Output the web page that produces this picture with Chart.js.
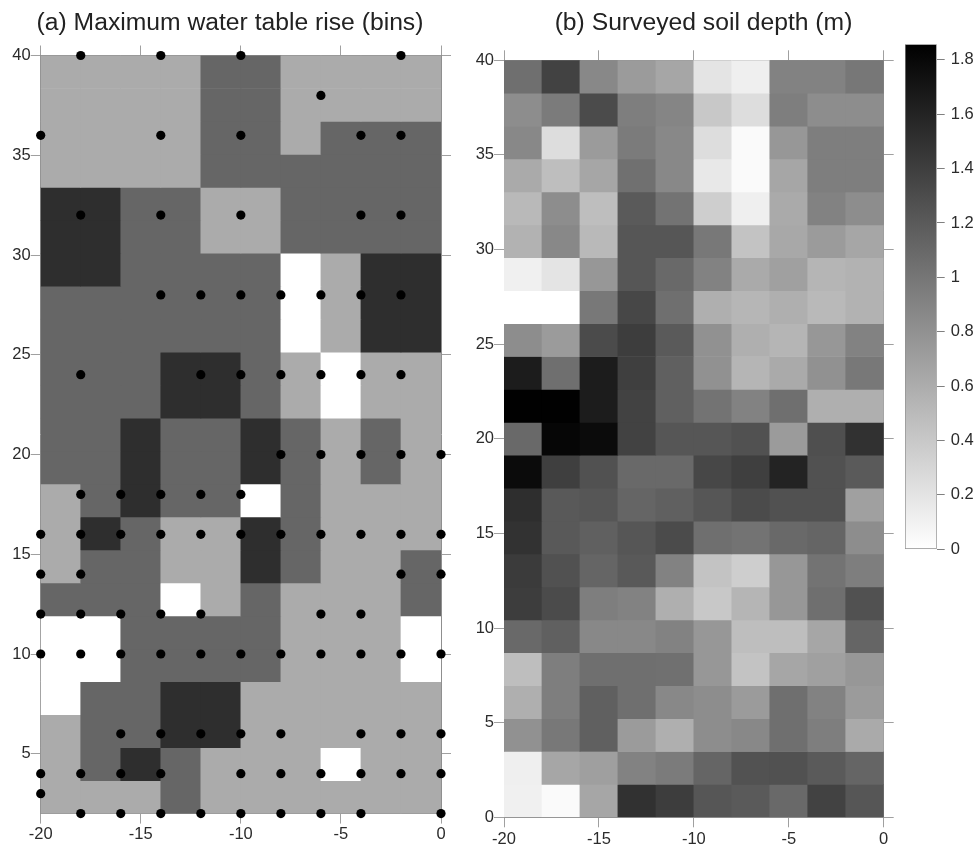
<!DOCTYPE html>
<html>
<head>
<meta charset="utf-8">
<title>Water table rise and soil depth</title>
<script src="https://cdn.jsdelivr.net/npm/chart.js@4/dist/chart.umd.js"></script>
<style>
html,body{margin:0;padding:0;background:#fff;overflow:hidden}
#wrap{position:relative;width:977px;height:845px;background:#fff}
canvas{position:absolute;display:block}
</style>
</head>
<body>
<div id="wrap">
<canvas id="panelA" width="460" height="845" style="left:0;top:0"></canvas>
<canvas id="panelB" width="487" height="845" style="left:460px;top:0"></canvas>
<canvas id="colorbar" width="97" height="845" style="left:880px;top:0"></canvas>
</div>
<script>
const titleA = "(a) Maximum water table rise (bins)";
const titleB = "(b) Surveyed soil depth (m)";
const xTicks = [-20, -15, -10, -5, 0];
const yTicksA = [5, 10, 15, 20, 25, 30, 35, 40];
const yTicksB = [0, 5, 10, 15, 20, 25, 30, 35, 40];
const barTicks = [0, 0.2, 0.4, 0.6, 0.8, 1, 1.2, 1.4, 1.6, 1.8];
const columnCentres = [-19, -17, -15, -13, -11, -9, -7, -5, -3, -1];

// rise bin per cell, rows from top (y = 40) to bottom (y = 2)
const riseBins = [
  [1,1,1,1,2,2,1,1,1,1],
  [1,1,1,1,2,2,1,1,1,1],
  [1,1,1,1,2,2,1,2,2,2],
  [1,1,1,1,2,2,2,2,2,2],
  [3,3,2,2,1,1,2,2,2,2],
  [3,3,2,2,1,1,2,2,2,2],
  [3,3,2,2,2,2,0,1,3,3],
  [2,2,2,2,2,2,0,1,3,3],
  [2,2,2,2,2,2,0,1,3,3],
  [2,2,2,3,3,2,1,0,1,1],
  [2,2,2,3,3,2,1,0,1,1],
  [2,2,3,2,2,3,2,1,2,1],
  [2,2,3,2,2,3,2,1,2,1],
  [1,2,3,2,2,0,2,1,1,1],
  [1,3,2,1,1,3,2,1,1,1],
  [1,2,2,1,1,3,2,1,1,2],
  [2,2,2,0,1,2,1,1,1,2],
  [0,0,2,2,2,2,1,1,1,0],
  [0,0,2,2,2,2,1,1,1,0],
  [0,2,2,3,3,1,1,1,1,1],
  [1,2,2,3,3,1,1,1,1,1],
  [1,2,3,2,1,1,1,0,1,1],
  [1,1,1,2,1,1,1,1,1,1]
];
// survey points as x positions grouped by y
const siteY = [40, 38, 36, 32, 28, 24, 20, 18, 16, 14, 12, 10, 6, 4, 3, 2];
const siteX = [
  [-18,-14,-10,-2],
  [-6],
  [-20,-14,-10,-4,-2],
  [-18,-14,-10,-4,-2],
  [-14,-12,-10,-8,-6,-4,-2],
  [-18,-12,-10,-8,-6,-4,-2],
  [-8,-6,-4,-2,0],
  [-18,-16,-14,-12,-10],
  [-20,-18,-16,-14,-12,-10,-8,-6,-4,-2,0],
  [-20,-18,-2,0],
  [-20,-18,-16,-14,-12,-6,-4],
  [-20,-18,-16,-14,-12,-10,-8,-6,-4,-2,0],
  [-16,-14,-12,-10,-8,-4,-2,0],
  [-20,-18,-16,-14,-10,-8,-6,-4,-2,0],
  [-20],
  [-18,-16,-14,-12,-10,-8,-6,-4,0]
];
// soil depth (m) per cell, rows from top (y = 40) to bottom (y = 0)
const soilDepth = [
  [1.05,1.38,0.87,0.73,0.65,0.20,0.12,0.91,0.91,0.99],
  [0.83,0.96,1.31,0.94,0.89,0.40,0.25,0.94,0.83,0.83],
  [0.87,0.25,0.73,0.96,0.87,0.25,0.04,0.76,0.94,0.94],
  [0.62,0.47,0.65,1.04,0.87,0.17,0.04,0.65,0.94,0.94],
  [0.51,0.83,0.47,1.20,1.02,0.36,0.12,0.62,0.91,0.83],
  [0.56,0.87,0.51,1.23,1.23,0.98,0.44,0.63,0.73,0.65],
  [0.11,0.20,0.76,1.23,1.09,0.91,0.62,0.69,0.54,0.56],
  [0.00,0.00,0.98,1.34,1.05,0.58,0.53,0.58,0.51,0.56],
  [0.83,0.73,1.31,1.41,1.20,0.80,0.58,0.54,0.76,0.91],
  [1.65,1.05,1.65,1.40,1.16,0.80,0.54,0.62,0.80,0.98],
  [1.85,1.85,1.65,1.38,1.16,1.02,0.91,1.05,0.58,0.58],
  [1.09,1.81,1.78,1.38,1.23,1.23,1.27,0.73,1.28,1.50],
  [1.78,1.40,1.27,1.09,1.09,1.34,1.40,1.60,1.27,1.20],
  [1.52,1.21,1.23,1.12,1.16,1.23,1.31,1.27,1.27,0.69],
  [1.49,1.21,1.16,1.23,1.31,1.05,1.02,1.09,1.12,0.83],
  [1.43,1.27,1.12,1.21,0.91,0.44,0.36,0.76,1.02,0.94],
  [1.41,1.31,0.94,0.91,0.58,0.40,0.54,0.76,1.05,1.27],
  [1.09,1.16,0.87,0.87,0.91,0.76,0.47,0.47,0.65,1.12],
  [0.47,0.94,1.05,1.05,1.04,0.76,0.44,0.65,0.69,0.76],
  [0.58,0.94,1.16,1.05,0.87,0.83,0.73,1.05,0.91,0.73],
  [0.80,0.98,1.16,0.73,0.58,0.83,0.87,1.05,0.94,0.62],
  [0.12,0.65,0.70,0.91,0.96,1.12,1.26,1.27,1.20,1.12],
  [0.11,0.04,0.65,1.50,1.41,1.23,1.20,1.09,1.38,1.23]
];
const binColours = ["#ffffff", "#ababab", "#666666", "#2e2e2e"];
const depthMax = 1.857;

const FONT = "'Liberation Sans', Arial, Helvetica, sans-serif";
const AXIS = "#8f8f8f";
const TEXT = "#2b2b2b";

function grey(v) {
  const g = Math.round(255 * (1 - Math.min(v, depthMax) / depthMax));
  return "rgb(" + g + "," + g + "," + g + ")";
}
function rowDatasets(rows, yMin, yMax, colourOf) {
  const h = (yMax - yMin) / rows.length;
  return rows.map((row, r) => ({
    type: "bar",
    label: "row " + r,
    order: 2,
    grouped: false,
    barPercentage: 1,
    categoryPercentage: 1,
    borderWidth: 0,
    data: row.map((_, c) => ({ x: columnCentres[c], y: [yMax - (r + 1) * h, yMax - r * h] })),
    backgroundColor: row.map(colourOf)
  }));
}
function fixed(size) {
  return s => { if (s.isHorizontal()) s.height = size; else s.width = size; };
}
function axis(extra, labelPad) {
  return Object.assign({
    type: "linear",
    offset: false,
    border: { display: true, color: AXIS, width: 1 },
    grid: { offset: false, drawOnChartArea: false, drawTicks: true, tickLength: 10, tickColor: "#a0a0a0", tickWidth: 1 },
    ticks: {
      color: TEXT, font: { family: FONT, size: 16.5 }, padding: labelPad || 0,
      autoSkip: false, maxRotation: 0, minRotation: 0, callback: v => String(v)
    }
  }, extra);
}
function hidden(o) {
  o.ticks = Object.assign({}, o.ticks, { callback: () => "", font: { family: FONT, size: 1 } });
  return o;
}
function panel(id, title, datasets, yMin, yMax, yTicks, geo) {
  const setX = s => { s.ticks = xTicks.map(v => ({ value: v })); };
  const setY = s => { s.ticks = yTicks.map(v => ({ value: v })); };
  return new Chart(document.getElementById(id), {
    type: "bar",
    data: { datasets },
    options: {
      responsive: false, animation: false, devicePixelRatio: 1,
      layout: { padding: 0 },
      plugins: {
        legend: { display: false }, tooltip: { enabled: false },
        title: {
          display: true, text: title, color: "#222222",
          font: { family: FONT, size: geo.titleSize, weight: "normal", lineHeight: 1.2 },
          padding: { top: geo.titleTop, bottom: geo.titleBottom }
        }
      },
      scales: {
        x: axis({ position: "bottom", min: -20, max: 0, afterBuildTicks: setX, afterFit: fixed(geo.bottom) }, geo.xPad),
        x2: hidden(axis({ position: "top", min: -20, max: 0, afterBuildTicks: setX, afterFit: fixed(10) })),
        y: axis({ position: "left", min: yMin, max: yMax, afterBuildTicks: setY, afterFit: fixed(geo.left) }),
        y2: hidden(axis({ position: "right", min: yMin, max: yMax, afterBuildTicks: setY, afterFit: fixed(geo.right) }))
      }
    }
  });
}

const riseDatasets = rowDatasets(riseBins, 2, 40, b => binColours[b]);
riseDatasets.push({
  type: "scatter",
  label: "sites",
  order: 1,
  clip: false,
  showLine: false,
  pointRadius: 4.6,
  pointBackgroundColor: "#000000",
  pointBorderWidth: 0,
  data: siteY.flatMap((y, i) => siteX[i].map(x => ({ x, y })))
});
panel("panelA", titleA, riseDatasets, 2, 40, yTicksA,
  { titleSize: 24.7, titleTop: 8.2, titleBottom: 7.66, left: 40.7, right: 19, bottom: 31.4, xPad: 1 });

panel("panelB", titleB, rowDatasets(soilDepth, 0, 40, grey), 0, 40, yTicksB,
  { titleSize: 24.7, titleTop: 8.2, titleBottom: 12.46, left: 44, right: 63.3, bottom: 27.7, xPad: 2 });

new Chart(document.getElementById("colorbar"), {
  type: "bar",
  data: {
    labels: [""],
    datasets: [{
      label: "Soil depth (m)",
      data: [[0, depthMax]],
      barPercentage: 1,
      categoryPercentage: 1,
      borderWidth: 1,
      borderSkipped: false,
      borderColor: AXIS,
      backgroundColor: ctx => {
        const a = ctx.chart.chartArea;
        if (!a) return "#808080";
        const g = ctx.chart.ctx.createLinearGradient(0, a.bottom, 0, a.top);
        g.addColorStop(0, "#ffffff");
        g.addColorStop(1, "#000000");
        return g;
      }
    }]
  },
  options: {
    responsive: false, animation: false, devicePixelRatio: 1,
    layout: { padding: { left: 25, top: 44.3, bottom: 295.7 } },
    plugins: { legend: { display: false }, tooltip: { enabled: false }, title: { display: false } },
    scales: {
      x: { type: "category", display: false },
      y: {
        position: "right", min: 0, max: depthMax,
        afterBuildTicks: s => { s.ticks = barTicks.map(v => ({ value: v })); },
        afterFit: fixed(40.3),
        border: { display: false },
        grid: { drawOnChartArea: false, drawTicks: true, tickLength: 8, tickColor: "#808080" },
        ticks: { color: TEXT, font: { family: FONT, size: 16.5 }, padding: 6, autoSkip: false, callback: v => String(v) }
      }
    }
  }
});
</script>
</body>
</html>
